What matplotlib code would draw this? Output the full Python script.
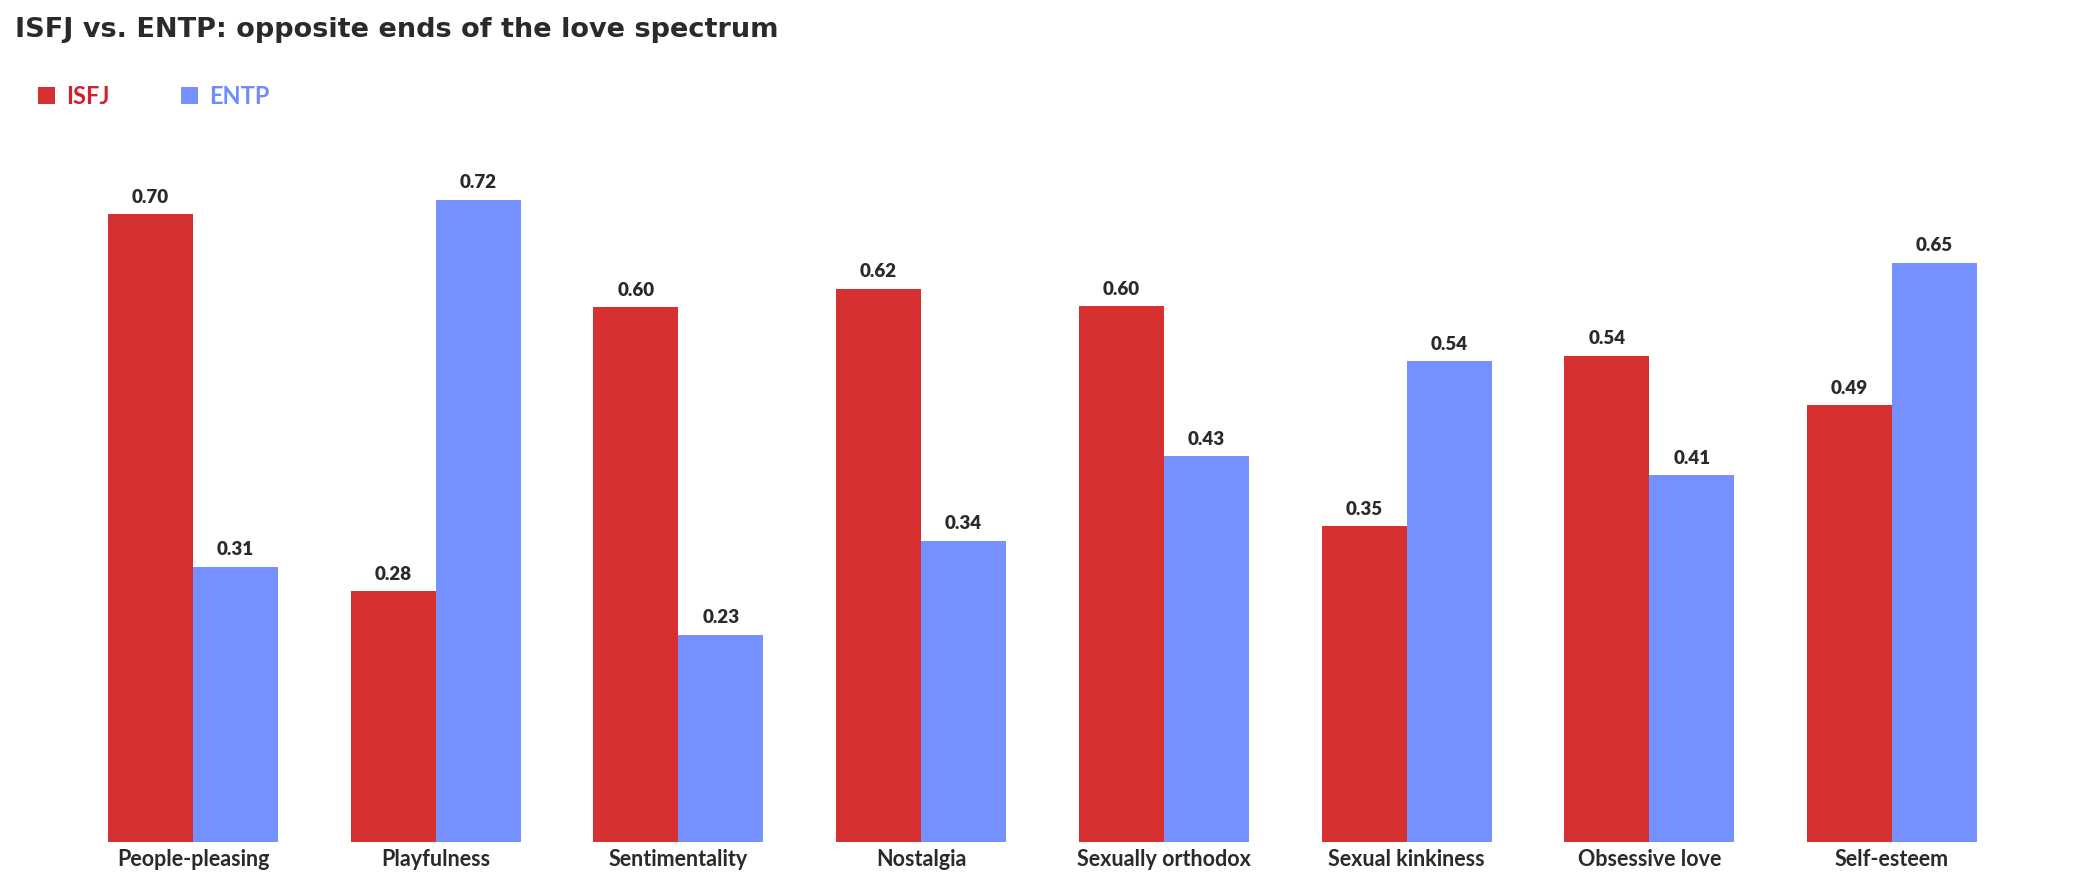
import matplotlib
matplotlib.use("Agg")
import matplotlib.pyplot as plt
from matplotlib.patches import Rectangle
import numpy as np

categories = ["People-pleasing", "Playfulness", "Sentimentality", "Nostalgia",
              "Sexually orthodox", "Sexual kinkiness", "Obsessive love", "Self-esteem"]
isfj = [0.700, 0.280, 0.596, 0.617, 0.597, 0.352, 0.542, 0.487]
entp = [0.307, 0.716, 0.231, 0.336, 0.430, 0.536, 0.409, 0.646]
series_names = ["ISFJ", "ENTP"]
title = "ISFJ vs. ENTP: opposite ends of the love spectrum"

RED = "#D63031"
BLUE = "#7590FF"
RED_TXT = "#D0222A"
BLUE_TXT = "#6F8CFF"
DARK = "#2A2A2A"

W, H = 2085, 884
fig = plt.figure(figsize=(W / 100, H / 100), dpi=100)

# axes placement (pixels)
left_px, right_px = 100, 2000
base_px, top_px = 842, 100
c0, pitch = 193.0, 242.7
px_per_unit = 897.0

ax = fig.add_axes([left_px / W, (H - base_px) / H, (right_px - left_px) / W, (base_px - top_px) / H])
ax.set_xlim((left_px - c0) / pitch, (right_px - c0) / pitch)
ax.set_ylim(0, (base_px - top_px) / px_per_unit)

x = np.arange(len(categories))
bw = 85.0 / pitch
b1 = ax.bar(x - bw / 2, isfj, width=bw, color=RED, linewidth=0)
b2 = ax.bar(x + bw / 2, entp, width=bw, color=BLUE, linewidth=0)

for bars, vals in ((b1, isfj), (b2, entp)):
    for rect, v in zip(bars, vals):
        ax.annotate(f"{v:.2f}", (rect.get_x() + rect.get_width() / 2, v),
                    xytext=(0, 6), textcoords="offset points",
                    ha="center", va="bottom", fontsize=13.5, fontweight="heavy",
                    family="Lato", color=DARK)

ax.set_xticks(x)
ax.set_xticklabels(categories, fontsize=15.5, fontweight="bold", family="Lato", color=DARK)
ax.tick_params(axis="x", length=0, pad=5)
ax.set_yticks([])
for s in ax.spines.values():
    s.set_visible(False)

# title
fig.text(15 / W, 1 - 37 / H, title, fontsize=19.5, fontweight="bold", family="DejaVu Sans",
         color=DARK, ha="left", va="baseline")

# legend
sq = 17
for (sx, tx, name, col, tcol) in ((38, 66, series_names[0], RED, RED_TXT),
                                  (181, 209, series_names[1], BLUE, BLUE_TXT)):
    fig.patches.append(Rectangle((sx / W, 1 - 104 / H), sq / W, sq / H,
                                 transform=fig.transFigure, color=col, linewidth=0))
    fig.text(tx / W, 1 - 104 / H, name, fontsize=17, fontweight="bold", family="Lato",
             color=tcol, ha="left", va="baseline")

fig.savefig("out.png", dpi=100, facecolor="white")
